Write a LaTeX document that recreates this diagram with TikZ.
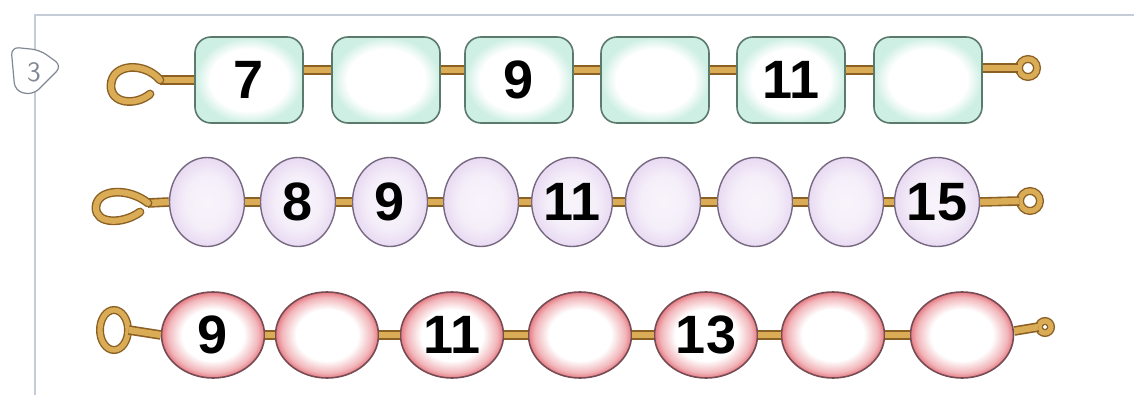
\documentclass[tikz,border=0pt]{standalone}
\usepackage{fontspec}
\newfontfamily\numfont{Liberation Sans}
\usetikzlibrary{shapes.geometric}

\definecolor{framegray}{RGB}{196,204,216}
\definecolor{badgegray}{RGB}{128,136,148}
\definecolor{mint}{RGB}{206,239,227}
\definecolor{mintline}{RGB}{92,122,108}
\definecolor{lilac}{RGB}{232,218,242}
\definecolor{lilacline}{RGB}{118,104,128}
\definecolor{rosy}{RGB}{230,122,130}
\definecolor{rosyline}{RGB}{118,76,84}
\definecolor{golddark}{RGB}{138,96,36}
\definecolor{goldlight}{RGB}{218,172,86}

\pgfdeclareradialshading{mintbead}{\pgfpoint{0bp}{0bp}}{color(0bp)=(white); color(18bp)=(white); color(25bp)=(mint); color(50bp)=(mint)}
\pgfdeclareradialshading{lilacbead}{\pgfpoint{0bp}{0bp}}{color(0bp)=(white!70!lilac); color(15bp)=(white!55!lilac); color(25bp)=(lilac); color(50bp)=(lilac)}
\pgfdeclareradialshading{rosybead}{\pgfpoint{0bp}{0bp}}{color(0bp)=(white); color(15bp)=(white); color(22bp)=(rosy!55); color(25bp)=(rosy); color(50bp)=(rosy)}

\newcommand\beadnum{\numfont\bfseries\fontsize{27}{27}\selectfont}

\tikzset{
  tile/.style={rectangle, rounded corners=8pt, minimum width=54pt, minimum height=43pt, inner sep=0pt,
    draw=mintline, line width=0.8pt, shade, shading=mintbead, font=\beadnum},
  pearl/.style={ellipse, minimum width=37.5pt, minimum height=44.5pt, inner sep=0pt,
    draw=lilacline, line width=0.7pt, shade, shading=lilacbead, font=\beadnum},
  egg/.style={ellipse, minimum width=51.5pt, minimum height=43pt, inner sep=0pt,
    draw=rosyline, line width=0.8pt, shade, shading=rosybead, font=\beadnum},
  rod/.style={draw=golddark, line width=0.8pt, double=goldlight, double distance=3.2pt},
  wire/.style={draw=golddark, line width=0.7pt, double=goldlight, double distance=3pt, line cap=round},
  eyelet/.style={circle, inner sep=0pt, draw=golddark, line width=0.7pt, double=goldlight, double distance=2.6pt},
}

\begin{document}
\begin{tikzpicture}[x=0.5pt, y=-0.5pt]
		%%%%% START %%%%%
		\useasboundingbox (0,0) rectangle (1134,395);

		\draw[line width=1.4pt, color=framegray] (35,395) -- (35,15) -- (1134,15);
		\draw[line width=0.6pt, color=badgegray, fill=white, rounded corners=4pt]
			(11,47) -- (40,50) -- (62,66) -- (33,95) -- (15,91) -- cycle;
		\node[font=\sffamily\fontsize{14}{14}\selectfont, color=badgegray] (badge) at (34,72) {3};

		% first string: tiles
		\node[tile] (t1) at (249,80) {7};
		\node[tile] (t2) at (386,80) {};
		\node[tile] (t3) at (519,80) {9};
		\node[tile] (t4) at (655,80) {};
		\node[tile] (t5) at (791,80) {11};
		\node[tile] (t6) at (928,80) {};
		\node[eyelet, minimum size=9pt] (r1) at (1028,68) {};
		\coordinate (h1) at (160,80);

		\foreach \a/\b in {t1/t2,t2/t3,t3/t4,t4/t5,t5/t6}
			\draw[rod] ([yshift=5pt]\a.east) -- ([yshift=5pt]\b.west);
		\draw[rod] ([yshift=6pt]t6.east) -- (r1.west);
		\draw[rod] (h1) -- (t1.west);
		\draw[wire] (h1) .. controls (145,62) and (112,63) .. (111,85) .. controls (110,104) and (136,106) .. (150,94);

		% second string: round beads
		\node[pearl] (p1) at (207,202) {};
		\node[pearl] (p2) at (298,202) {8};
		\node[pearl] (p3) at (390,202) {9};
		\node[pearl] (p4) at (481,202) {};
		\node[pearl] (p5) at (572,202) {11};
		\node[pearl] (p6) at (663,202) {};
		\node[pearl] (p7) at (755,202) {};
		\node[pearl] (p8) at (846,202) {};
		\node[pearl] (p9) at (937,202) {15};
		\node[eyelet, minimum size=10pt] (r2) at (1030,201) {};
		\coordinate (h2) at (148,203);

		\foreach \a/\b in {p1/p2,p2/p3,p3/p4,p4/p5,p5/p6,p6/p7,p7/p8,p8/p9}
			\draw[rod] (\a.east) -- (\b.west);
		\draw[rod] (p9.east) -- (r2.west);
		\draw[rod] (h2) -- (p1.west);
		\draw[wire] (h2) .. controls (128,187) and (97,189) .. (96,207) .. controls (95,225) and (124,224) .. (140,212);

		% third string: oval beads
		\node[egg] (e1) at (213,335) {9};
		\node[egg] (e2) at (327,335) {};
		\node[egg] (e3) at (452,335) {11};
		\node[egg] (e4) at (580,335) {};
		\node[egg] (e5) at (706,335) {13};
		\node[egg] (e6) at (833,335) {};
		\node[egg] (e7) at (962,335) {};
		\node[eyelet, minimum size=6pt] (r3) at (1045,327) {};
		\node[eyelet, ellipse, minimum width=14pt, minimum height=20pt] (r0) at (114,330) {};

		\foreach \a/\b in {e1/e2,e2/e3,e3/e4,e4/e5,e5/e6,e6/e7}
			\draw[rod] (\a.east) -- (\b.west);
		\draw[rod] ([yshift=2pt]e7.east) -- (r3.west);
		\draw[rod] (r0.east) -- (e1.west);

		%%%%% END %%%%%
\end{tikzpicture}
\end{document}
